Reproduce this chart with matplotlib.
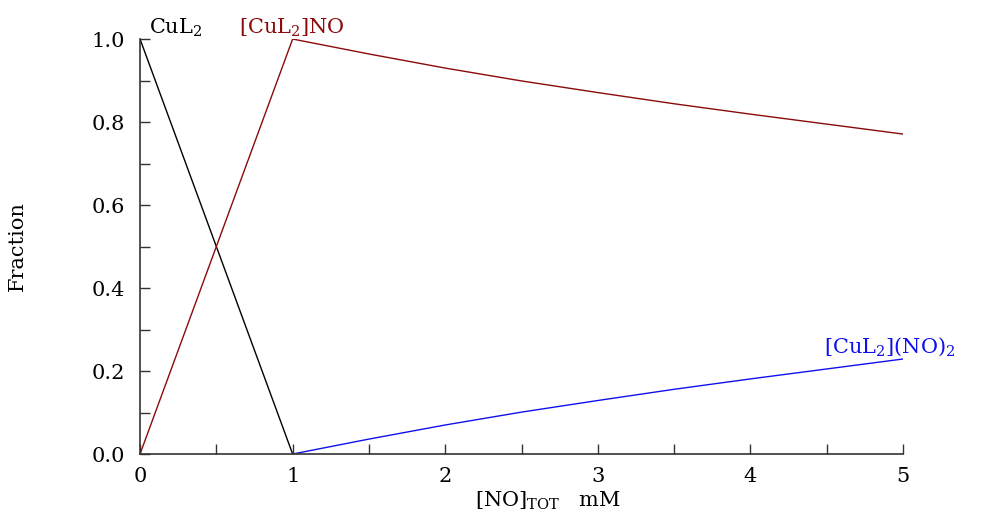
import numpy as np
import matplotlib
matplotlib.use("Agg")
import matplotlib.pyplot as plt
from matplotlib.ticker import MultipleLocator

plt.rcParams['font.family'] = ['DejaVu Serif']
plt.rcParams['mathtext.fontset'] = 'dejavuserif'

# fractions vs total NO (mM)
no_low = [0.0, 1.0]
cul2 = [1.0, 0.0]
cul2no_low = [0.0, 1.0]

no_high = [1.0, 1.5, 2.0, 2.5, 3.0, 3.5, 4.0, 4.5, 5.0]
cul2no2 = [0.0, 0.036, 0.070, 0.101, 0.129, 0.156, 0.181, 0.205, 0.229]
cul2no_high = [1 - v for v in cul2no2]

RED = "#8b0a0a"
BLUE = "#1010ee"
FS = 15

fig = plt.figure(figsize=(9.91, 5.15), dpi=100)
ax = fig.add_axes([0.1413, 0.1184, 0.770, 0.8058])

ax.plot(no_low, cul2, color="black", lw=1.0)
ax.plot(no_low, cul2no_low, color=RED, lw=1.0)
ax.plot(no_high, cul2no_high, color=RED, lw=1.0)
ax.plot(no_high, cul2no2, color=BLUE, lw=1.0)

ax.set_xlim(0, 5)
ax.set_ylim(0, 1)
for s in ["top", "right"]:
    ax.spines[s].set_visible(False)
for s in ["left", "bottom"]:
    ax.spines[s].set_color("#333333")
    ax.spines[s].set_linewidth(1.2)

ax.xaxis.set_major_locator(MultipleLocator(1))
ax.xaxis.set_minor_locator(MultipleLocator(0.5))
ax.yaxis.set_major_locator(MultipleLocator(0.2))
ax.yaxis.set_minor_locator(MultipleLocator(0.1))
ax.yaxis.set_major_formatter(matplotlib.ticker.FormatStrFormatter("%.1f"))
ax.tick_params(which="both", direction="in", length=7, width=1.0,
               color="#333333", labelsize=FS)
ax.tick_params(axis="y", which="both", pad=11)
ax.tick_params(axis="x", which="both", pad=9)

ax.set_xlabel(r"[NO]$_{\mathrm{TOT}}$   mM", fontsize=FS)
ax.xaxis.set_label_coords(0.535, -0.085)
ax.set_ylabel("Fraction", fontsize=FS)
ax.yaxis.set_label_coords(-0.148, 0.5)

ax.text(0.06, 1.012, r"CuL$_2$", fontsize=FS, color="black",
        ha="left", va="baseline", clip_on=False)
ax.text(0.65, 1.012, r"[CuL$_2$]NO", fontsize=FS, color=RED,
        ha="left", va="baseline", clip_on=False)
ax.text(4.48, 0.243, r"[CuL$_2$](NO)$_2$", fontsize=FS, color=BLUE,
        ha="left", va="baseline", clip_on=False)

fig.savefig("out.png", dpi=100)
